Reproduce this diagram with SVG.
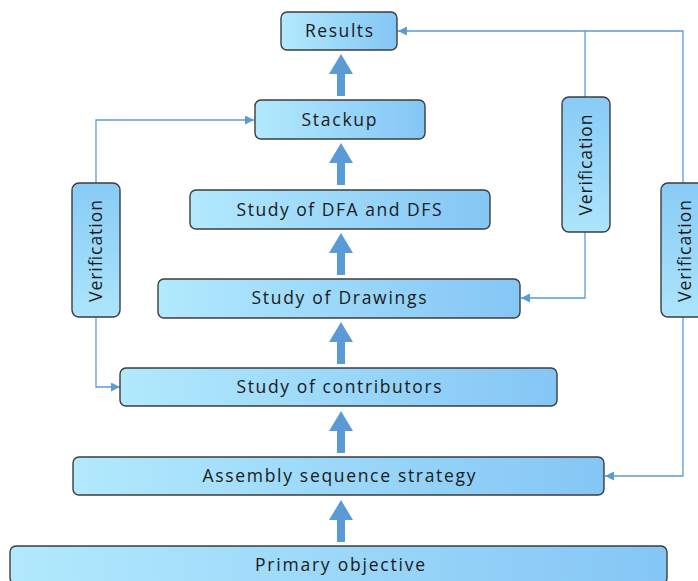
<svg xmlns="http://www.w3.org/2000/svg" width="698" height="581" viewBox="0 0 698 581">
<defs>
<linearGradient id="gh" x1="0" y1="0" x2="1" y2="0">
<stop offset="0" stop-color="#b2e9fd"/>
<stop offset="1" stop-color="#84c6f5"/>
</linearGradient>
<linearGradient id="gv" x1="0" y1="0" x2="0" y2="1">
<stop offset="0" stop-color="#88cbf6"/>
<stop offset="1" stop-color="#ace5fc"/>
</linearGradient>
<marker id="ah" viewBox="0 0 10 10" refX="10" refY="5" markerWidth="10" markerHeight="9" markerUnits="userSpaceOnUse" orient="auto">
<path d="M0,0 L10,5 L0,10 Z" fill="#5b9bd5"/>
</marker>
<path id="bigarrow" d="M0,0 L12,20 L4,20 L4,42 L-4,42 L-4,20 L-12,20 Z" fill="#5b9bd5"/>
</defs>
<style>
.box{fill:url(#gh);stroke:#3c3c3c;stroke-width:1.4}
.vbox{fill:url(#gv);stroke:#3c3c3c;stroke-width:1.4}
.t{font-family:"Open Sans","DejaVu Sans",sans-serif;font-size:17.5px;fill:#1a1a1a;text-anchor:middle}
.ln{fill:none;stroke:#5b9bd5;stroke-width:1.3}
</style>
<rect width="698" height="581" fill="#ffffff"/>
<g id="connectors">
<use href="#bigarrow" x="341" y="54"/>
<use href="#bigarrow" x="341" y="143"/>
<use href="#bigarrow" x="341" y="233"/>
<use href="#bigarrow" x="341" y="322"/>
<use href="#bigarrow" x="341" y="411"/>
<use href="#bigarrow" x="341" y="500"/>
<path class="ln" d="M96,183 V120 H254" marker-end="url(#ah)"/>
<path class="ln" d="M96,317 V387 H120" marker-end="url(#ah)"/>
<path class="ln" d="M683,183 V31 H398" marker-end="url(#ah)"/>
<path class="ln" d="M585,97 V31"/>
<path class="ln" d="M585,232 V298 H521" marker-end="url(#ah)"/>
<path class="ln" d="M683,317 V476 H605" marker-end="url(#ah)"/>
</g>
<g id="results"><rect class="box" x="281" y="12" width="116" height="38" rx="6"/><text class="t" x="339" y="37" textLength="68" lengthAdjust="spacing">Results</text></g>
<g id="stackup"><rect class="box" x="255" y="100" width="170" height="39" rx="6"/><text class="t" x="339" y="126" textLength="75" lengthAdjust="spacing">Stackup</text></g>
<g id="dfa"><rect class="box" x="190" y="190" width="300" height="39" rx="6"/><text class="t" x="339" y="216" textLength="205" lengthAdjust="spacing">Study of DFA and DFS</text></g>
<g id="drawings"><rect class="box" x="158" y="279" width="362" height="39" rx="6"/><text class="t" x="339" y="304" textLength="175" lengthAdjust="spacing">Study of Drawings</text></g>
<g id="contributors"><rect class="box" x="120" y="368" width="437" height="38" rx="6"/><text class="t" x="339" y="393" textLength="205" lengthAdjust="spacing">Study of contributors</text></g>
<g id="assembly"><rect class="box" x="73" y="457" width="531" height="38" rx="6"/><text class="t" x="339" y="482" textLength="273" lengthAdjust="spacing">Assembly sequence strategy</text></g>
<g id="primary"><rect class="box" x="10" y="546" width="657" height="38" rx="6"/><text class="t" x="340" y="571" textLength="170" lengthAdjust="spacing">Primary objective</text></g>
<g id="verif-left"><rect class="vbox" x="72" y="183" width="48" height="134" rx="7"/><text class="t" transform="translate(102,251) rotate(-90)" textLength="102" lengthAdjust="spacing">Verification</text></g>
<g id="verif-right1"><rect class="vbox" x="562" y="97" width="48" height="135" rx="7"/><text class="t" transform="translate(592,165) rotate(-90)" textLength="101" lengthAdjust="spacing">Verification</text></g>
<g id="verif-right2"><rect class="vbox" x="661" y="183" width="48" height="134" rx="7"/><text class="t" transform="translate(691,251) rotate(-90)" textLength="102" lengthAdjust="spacing">Verification</text></g>
</svg>
